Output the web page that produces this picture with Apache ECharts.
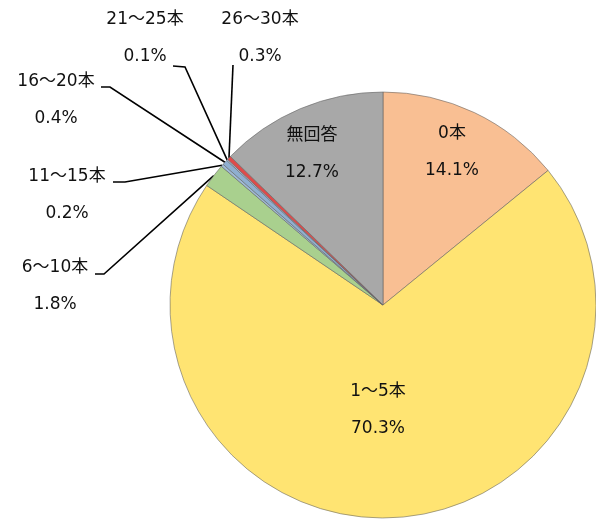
<!DOCTYPE html>
<html>
<head>
<meta charset="utf-8">
<script src="https://cdn.jsdelivr.net/npm/echarts@6/dist/echarts.min.js"></script>
<style>html,body{margin:0;padding:0;background:#fff}#c{width:596px;height:525px}</style>
</head>
<body>
<div id="c"></div>
<script>
// Data
const categories = ['0本', '1～5本', '6～10本', '11～15本', '16～20本', '21～25本', '26～30本', '無回答'];
const values = [14.1, 70.3, 1.8, 0.2, 0.4, 0.1, 0.3, 12.7];

// Styles / layout
const colors = ['#F9BF93', '#FFE472', '#A9D08E', '#9FBBD6', '#8FAFD0', '#B0C4DE', '#DE4B4B', '#A8A8A8'];
const insideSet = { '0本': 1, '1～5本': 1, '無回答': 1 };
// label block centre and leader anchor/elbow points (layout only)
const labelPlace = {
  '0本':     { x: 452, y: 152 },
  '1～5本':  { x: 378, y: 410 },
  '無回答':  { x: 312, y: 154 },
  '6～10本': { x: 55,  y: 286, a: [95, 274],  e: [104, 274] },
  '11～15本':{ x: 67,  y: 195, a: [113, 182], e: [125, 182] },
  '16～20本':{ x: 56,  y: 100, a: [101, 87],  e: [110, 87] },
  '21～25本':{ x: 145, y: 38,  a: [173, 66],  e: [185, 67] },
  '26～30本':{ x: 260, y: 38,  a: [233, 65],  e: [233, 65] }
};

const FONT = "'DejaVu Sans', 'Noto Sans CJK JP', sans-serif";

const data = categories.map((c, i) => ({
  name: c,
  value: values[i],
  itemStyle: { color: colors[i] },
  label: { position: insideSet[c] ? 'inside' : 'outside' },
  labelLine: { show: !insideSet[c] }
}));

const chart = echarts.init(document.getElementById('c'), null, { renderer: 'canvas' });
chart.setOption({
  animation: false,
  series: [{
    type: 'pie',
    center: [383, 305],
    radius: 213,
    startAngle: 90,
    clockwise: true,
    avoidLabelOverlap: false,
    data: data,
    itemStyle: { borderColor: 'rgba(95,95,95,0.7)', borderWidth: 0.8 },
    label: {
      show: true,
      formatter: p => p.name + '\n' + p.value.toFixed(1) + '%',
      fontFamily: FONT,
      fontSize: 17,
      lineHeight: 37,
      color: '#111',
      align: 'center'
    },
    labelLine: {
      show: true,
      length: 10,
      length2: 10,
      smooth: false,
      lineStyle: { color: '#000', width: 1.6 }
    },
    labelLayout: function (params) {
      const name = categories[params.dataIndex];
      const pl = labelPlace[name];
      const out = { x: pl.x, y: pl.y, align: 'center', verticalAlign: 'middle' };
      if (pl.a && params.labelLinePoints) {
        const p0 = params.labelLinePoints[0];
        out.labelLinePoints = [[p0[0], p0[1]], pl.e, pl.a];
      }
      return out;
    }
  }]
});
</script>
</body>
</html>
